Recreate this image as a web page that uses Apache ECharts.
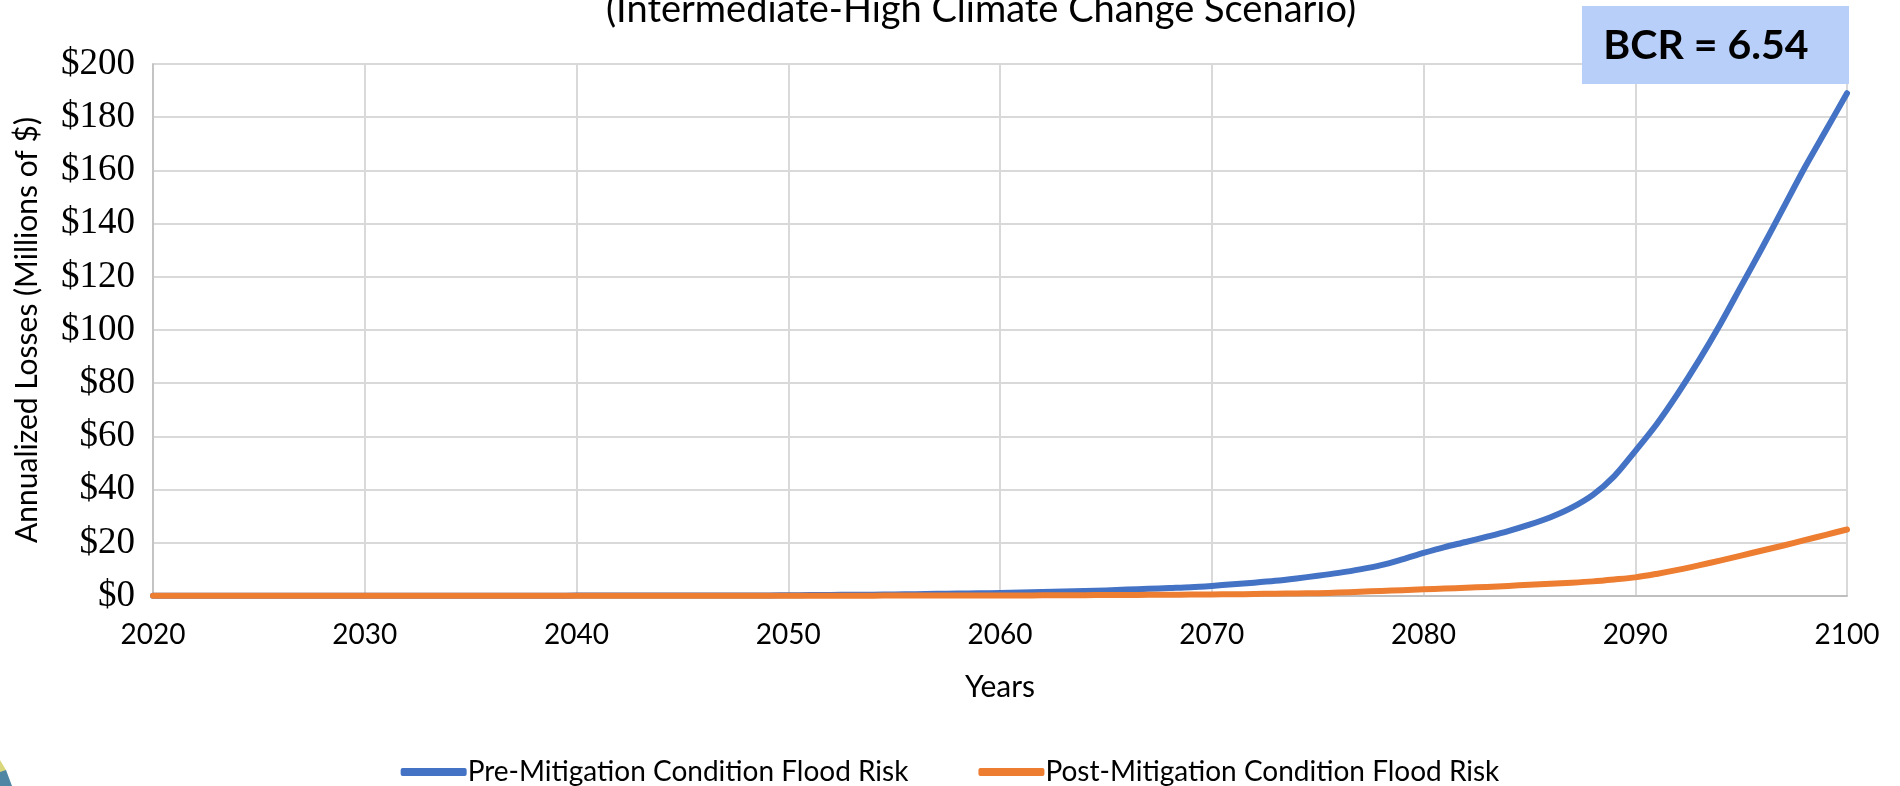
<!DOCTYPE html>
<html>
<head>
<meta charset="utf-8">
<title>Annualized Losses – Intermediate-High Climate Change Scenario</title>
<script src="https://cdn.jsdelivr.net/npm/echarts@6/dist/echarts.min.js"></script>
<style>
  html, body { margin: 0; padding: 0; background: #ffffff; }
  #chart { width: 1900px; height: 786px; }
</style>
</head>
<body>
<div id="chart"></div>
<script>
// Years on the horizontal axis
const years = [
  2020, 2021, 2022, 2023, 2024, 2025, 2026, 2027, 2028, 2029,
  2030, 2031, 2032, 2033, 2034, 2035, 2036, 2037, 2038, 2039,
  2040, 2041, 2042, 2043, 2044, 2045, 2046, 2047, 2048, 2049,
  2050, 2051, 2052, 2053, 2054, 2055, 2056, 2057, 2058, 2059,
  2060, 2061, 2062, 2063, 2064, 2065, 2066, 2067, 2068, 2069,
  2070, 2071, 2072, 2073, 2074, 2075, 2076, 2077, 2078, 2079,
  2080, 2081, 2082, 2083, 2084, 2085, 2086, 2087, 2088, 2089,
  2090, 2091, 2092, 2093, 2094, 2095, 2096, 2097, 2098, 2099,
  2100
];

// Annualized losses, millions of dollars
const preMitigation = [
  0.1, 0.1, 0.1, 0.1, 0.1, 0.1, 0.1, 0.1, 0.1, 0.1,
  0.1, 0.1, 0.1, 0.1, 0.1, 0.1, 0.1, 0.1, 0.1, 0.1,
  0.15, 0.15, 0.15, 0.15, 0.15, 0.2, 0.2, 0.2, 0.2, 0.2,
  0.3, 0.35, 0.4, 0.45, 0.5, 0.6, 0.7, 0.8, 0.9, 1.0,
  1.1, 1.3, 1.5, 1.7, 1.9, 2.1, 2.4, 2.7, 3.0, 3.3,
  3.8, 4.4, 5.0, 5.7, 6.6, 7.6, 8.7, 10.0, 11.6, 13.8,
  16.2, 18.4, 20.3, 22.3, 24.4, 26.8, 29.6, 33.2, 38.0, 45.0,
  54.5, 64.5, 76.0, 88.5, 102.0, 116.5, 131.0, 146.0, 161.0, 175.0,
  189.0
];

const postMitigation = [
  0.1, 0.1, 0.1, 0.1, 0.1, 0.1, 0.1, 0.1, 0.1, 0.1,
  0.1, 0.1, 0.1, 0.1, 0.1, 0.1, 0.1, 0.1, 0.1, 0.1,
  0.1, 0.1, 0.1, 0.1, 0.1, 0.1, 0.1, 0.1, 0.1, 0.1,
  0.12, 0.12, 0.13, 0.13, 0.14, 0.15, 0.16, 0.17, 0.18, 0.19,
  0.2, 0.22, 0.25, 0.28, 0.31, 0.35, 0.39, 0.43, 0.48, 0.54,
  0.6, 0.65, 0.75, 0.85, 0.95, 1.05, 1.3, 1.6, 1.9, 2.2,
  2.5, 2.8, 3.1, 3.4, 3.8, 4.2, 4.6, 5.0, 5.5, 6.2,
  7.0, 8.3, 9.8, 11.5, 13.3, 15.2, 17.1, 19.0, 21.0, 23.0,
  25.0
];

// Tick values
const xTicks = [2020, 2030, 2040, 2050, 2060, 2070, 2080, 2090, 2100];
const yTicks = [0, 20, 40, 60, 80, 100, 120, 140, 160, 180, 200];

const seriesNames = ['Pre-Mitigation Condition Flood Risk', 'Post-Mitigation Condition Flood Risk'];
const scenarioTitle = '(Intermediate-High Climate Change Scenario)';
const bcrText = 'BCR = 6.54';

const sansFont = 'Lato';
const serifFont = 'Liberation Serif';
const gridColor = '#d9d9d9';

const chart = echarts.init(document.getElementById('chart'), null, { renderer: 'canvas' });

const pairs = (ys) => years.map((y, i) => [y, ys[i]]);

chart.setOption({
  backgroundColor: '#ffffff',
  animation: false,
  textStyle: { fontFamily: sansFont, color: '#000000' },
  grid: { left: 153, right: 53, top: 64, bottom: 190, containLabel: false },
  xAxis: {
    type: 'value',
    min: xTicks[0],
    max: xTicks[xTicks.length - 1],
    interval: xTicks[1] - xTicks[0],
    name: 'Years',
    nameLocation: 'middle',
    nameGap: 76,
    nameTextStyle: { fontFamily: sansFont, fontSize: 30, color: '#000000' },
    axisLine: { show: true, lineStyle: { color: '#bfbfbf', width: 2 } },
    axisTick: { show: false },
    axisLabel: {
      margin: 25,
      fontFamily: sansFont,
      fontSize: 28,
      color: '#000000',
      formatter: (v) => String(v)
    },
    splitLine: { show: true, lineStyle: { color: gridColor, width: 2 } }
  },
  yAxis: {
    type: 'value',
    min: yTicks[0],
    max: yTicks[yTicks.length - 1],
    interval: yTicks[1] - yTicks[0],
    name: 'Annualized Losses (Millions of $)',
    nameLocation: 'middle',
    nameGap: 111,
    nameRotate: 90,
    nameTextStyle: { fontFamily: sansFont, fontSize: 30, color: '#000000' },
    axisLine: { show: true, lineStyle: { color: '#c4c4c4', width: 2 } },
    axisTick: { show: false },
    axisLabel: {
      margin: 18,
      fontFamily: serifFont,
      fontSize: 37,
      color: '#000000',
      formatter: (v) => '$' + v
    },
    splitLine: { show: true, lineStyle: { color: gridColor, width: 2 } }
  },
  legend: {
    top: 753,
    left: 'center',
    itemWidth: 66,
    itemHeight: 8,
    itemGap: 70,
    icon: 'roundRect',
    textStyle: { fontFamily: sansFont, fontSize: 28, color: '#000000', padding: [0, 0, 0, -4] },
    data: seriesNames
  },
  series: [
    {
      name: seriesNames[0],
      type: 'line',
      data: pairs(preMitigation),
      smooth: 0.3,
      showSymbol: false,
      symbol: 'none',
      lineStyle: { color: '#4472c4', width: 6, cap: 'round', join: 'round' },
      itemStyle: { color: '#4472c4' }
    },
    {
      name: seriesNames[1],
      type: 'line',
      data: pairs(postMitigation),
      smooth: 0.3,
      showSymbol: false,
      symbol: 'none',
      lineStyle: { color: '#ed7d31', width: 6, cap: 'round', join: 'round' },
      itemStyle: { color: '#ed7d31' }
    }
  ],
  graphic: [
    {
      type: 'text',
      x: 981,
      y: -9,
      style: {
        text: scenarioTitle,
        fontFamily: sansFont,
        fontSize: 38,
        fill: '#000000',
        align: 'center',
        verticalAlign: 'top'
      }
    },
    {
      type: 'rect',
      shape: { x: 1582, y: 6, width: 267, height: 78 },
      style: { fill: '#b8cffa' },
      z: 10
    },
    {
      type: 'text',
      x: 1706,
      y: 46,
      style: {
        text: bcrText,
        fontFamily: sansFont,
        fontWeight: 'bold',
        fontSize: 41,
        fill: '#000000',
        align: 'center',
        verticalAlign: 'middle'
      },
      z: 11
    },
    // corner of the emblem peeking in at bottom-left
    {
      type: 'polygon',
      shape: { points: [[0, 760], [6, 770], [3, 786], [0, 786]] },
      style: { fill: '#d8d77c' },
      z: 1
    },
    {
      type: 'polygon',
      shape: { points: [[0, 772], [6, 770], [12, 786], [0, 786]] },
      style: { fill: '#4e86a3' },
      z: 2
    }
  ]
});
</script>
</body>
</html>
